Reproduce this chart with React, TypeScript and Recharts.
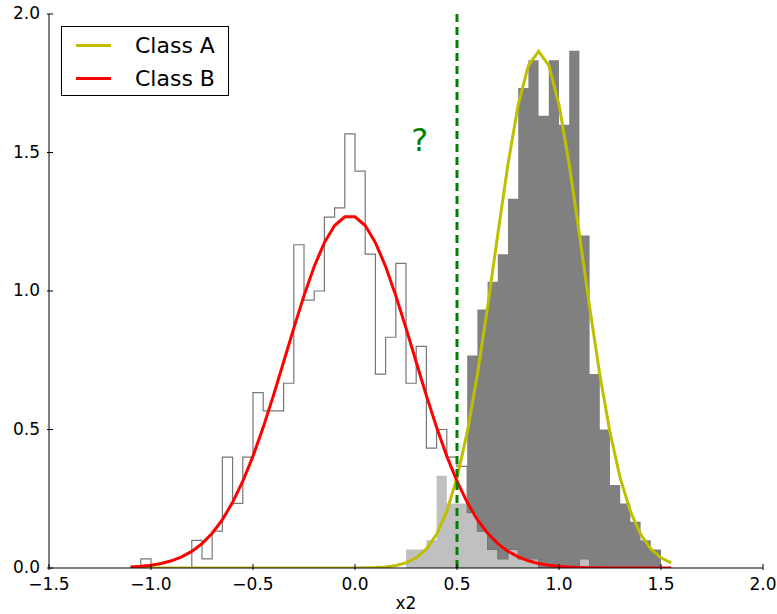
import {
  ComposedChart,
  Area,
  Line,
  XAxis,
  YAxis,
  ReferenceLine,
  ReferenceDot,
  Legend,
  Label,
} from 'recharts';

// bin left edges / curve sample positions (x2)
const xs = [
  -1.1, -1.05, -1.0, -0.95, -0.9, -0.85, -0.8, -0.75, -0.7, -0.65,
  -0.6, -0.55, -0.5, -0.45, -0.4, -0.35, -0.3, -0.25, -0.2, -0.15,
  -0.1, -0.05, 0.0, 0.05, 0.1, 0.15, 0.2, 0.25, 0.3, 0.35,
  0.4, 0.45, 0.5, 0.55, 0.6, 0.65, 0.7, 0.75, 0.8, 0.85,
  0.9, 0.95, 1.0, 1.05, 1.1, 1.15, 1.2, 1.25, 1.3, 1.35,
  1.4, 1.45, 1.5, 1.55,
];

// normalised histogram heights, bin starting at xs[i]
const classAHist = [
  0, 0, 0, 0, 0, 0, 0, 0, 0, 0,
  0, 0, 0, 0, 0, 0, 0, 0, 0, 0,
  0, 0, 0, 0, 0, 0, 0, 0.067, 0.067, 0.1,
  0.333, 0.233, 0.233, 0.767, 0.933, 1.033, 1.133, 1.333, 1.733, 1.833,
  1.633, 1.833, 1.6, 1.867, 1.2, 0.7, 0.5, 0.3, 0.233, 0.167,
  0.1, 0.067, 0, 0,
];

const classBHist = [
  0, 0.033, 0, 0, 0, 0, 0.1, 0.033, 0.133, 0.4,
  0.233, 0.4, 0.633, 0.567, 0.567, 0.667, 1.167, 0.967, 1.0, 1.267,
  1.3, 1.567, 1.433, 1.133, 0.7, 0.833, 1.1, 0.667, 0.8, 0.433,
  0.5, 0.4, 0.367, 0.2, 0.133, 0.067, 0.033, 0.067, 0.033, 0.033,
  0, 0, 0, 0, 0.033, 0, null, null, null, null,
  null, null, null, null,
];

// fitted density curves
const classAFit = [
  0, 0, 0, 0, 0, 0, 0, 0, 0, 0,
  0, 0, 0, 0, 0, 0, 0, 0, 0, 0,
  0, 0.0001, 0.0003, 0.0007, 0.0017, 0.004, 0.0089, 0.0185, 0.0366, 0.0686,
  0.1217, 0.2044, 0.3251, 0.4895, 0.6981, 0.9426, 1.205, 1.4588, 1.6721, 1.8148,
  1.865, 1.8148, 1.6721, 1.4588, 1.205, 0.9426, 0.6981, 0.4895, 0.3251, 0.2044,
  0.1217, 0.0686, 0.0366, 0.0185,
];

const classBFit = [
  0.0036, 0.0061, 0.0101, 0.0164, 0.0259, 0.04, 0.06, 0.0879, 0.1255, 0.1746,
  0.2369, 0.3133, 0.404, 0.5078, 0.6223, 0.7435, 0.866, 0.9834, 1.0886, 1.1748,
  1.2361, 1.268, 1.268, 1.2361, 1.1748, 1.0886, 0.9834, 0.866, 0.7435, 0.6223,
  0.5078, 0.404, 0.3133, 0.2369, 0.1746, 0.1255, 0.0879, 0.06, 0.04, 0.0259,
  0.0164, 0.0101, 0.0061, 0.0036, 0.002, 0.0011, 0.0006, 0.0003, 0.0002, 0.0001,
  0, 0, 0, 0,
];

const xTicks = [-1.5, -1.0, -0.5, 0.0, 0.5, 1.0, 1.5, 2.0];
const yTicks = [0.0, 0.5, 1.0, 1.5, 2.0];
const seriesNames = ['Class A', 'Class B'];
const seriesColors = ['#bfbf00', '#ff0000'];
const threshold = 0.5;

const FONT = '"DejaVu Sans", sans-serif';

const data = xs.map((x, i) => ({
  x,
  histA: classAHist[i],
  histB: classBHist[i],
  fitA: classAFit[i],
  fitB: classBFit[i],
}));

const fmt = (v: number) => v.toFixed(1).replace('-', '\u2212');

function BottomTick({ x, y, payload }: any) {
  return (
    <g>
      <line x1={x} x2={x} y1={y} y2={y - 6} stroke="#000" />
      <text x={x} y={y + 20} textAnchor="middle" fontSize={17} fontFamily={FONT} fill="#000">
        {fmt(payload.value)}
      </text>
    </g>
  );
}

function LeftTick({ x, y, payload }: any) {
  return (
    <g>
      <line x1={x} x2={x + 6} y1={y} y2={y} stroke="#000" />
      <text x={x - 7} y={y + 5} textAnchor="end" fontSize={17} fontFamily={FONT} fill="#000">
        {fmt(payload.value)}
      </text>
    </g>
  );
}

function TopTick({ x, y }: any) {
  return <line x1={x} x2={x} y1={y} y2={y + 6} stroke="#000" />;
}

function RightTick({ x, y }: any) {
  return <line x1={x} x2={x - 6} y1={y} y2={y} stroke="#000" />;
}

function LegendBox() {
  return (
    <div
      style={{
        boxSizing: 'border-box',
        width: 168,
        height: 70,
        border: '1px solid #000',
        background: '#fff',
        paddingTop: 2,
        fontFamily: FONT,
        fontSize: 22,
        color: '#000',
      }}
    >
      {seriesNames.map((name, i) => (
        <div key={name} style={{ display: 'flex', alignItems: 'center', height: 33 }}>
          <div style={{ marginLeft: 14, width: 35, height: 3, background: seriesColors[i] }} />
          <span style={{ marginLeft: 24, lineHeight: '33px' }}>{name}</span>
        </div>
      ))}
    </div>
  );
}

export default function App() {
  return (
    <div style={{ position: 'absolute', left: 0, top: 0, fontFamily: FONT, background: '#fff' }}>
      <ComposedChart width={777} height={614} data={data} margin={{ top: 14, right: 14, bottom: 0, left: 0 }}>
        <XAxis
          type="number"
          dataKey="x"
          domain={[-1.5, 2]}
          ticks={xTicks}
          interval={0}
          allowDataOverflow
          height={46}
          tickSize={0}
          tickLine={false}
          tick={BottomTick}
          axisLine={{ stroke: '#000' }}
        >
          <Label value="x2" position="insideBottom" offset={5} fontSize={17} fill="#000" fontFamily={FONT} />
        </XAxis>
        <XAxis
          xAxisId="top"
          orientation="top"
          type="number"
          dataKey="x"
          domain={[-1.5, 2]}
          ticks={xTicks}
          interval={0}
          allowDataOverflow
          height={0}
          tickSize={0}
          tickLine={false}
          tick={TopTick}
          axisLine={{ stroke: '#000' }}
        />
        <YAxis
          type="number"
          domain={[0, 2]}
          ticks={yTicks}
          interval={0}
          allowDataOverflow
          width={49}
          tickSize={0}
          tickLine={false}
          tick={LeftTick}
          axisLine={{ stroke: '#000' }}
        />
        <YAxis
          yAxisId="right"
          orientation="right"
          type="number"
          domain={[0, 2]}
          ticks={yTicks}
          interval={0}
          allowDataOverflow
          width={0}
          tickSize={0}
          tickLine={false}
          tick={RightTick}
          axisLine={{ stroke: '#000' }}
        />

        {/* Class A histogram (filled) */}
        <Area
          type="stepAfter"
          dataKey="histA"
          fill="#808080"
          fillOpacity={1}
          stroke="none"
          legendType="none"
          isAnimationActive={false}
        />
        {/* Class B histogram: translucent white fill, grey outline */}
        <Area
          type="stepAfter"
          dataKey="histB"
          fill="#ffffff"
          fillOpacity={0.5}
          stroke="#777777"
          strokeWidth={1.2}
          legendType="none"
          isAnimationActive={false}
        />

        <Line type="linear" dataKey="fitA" name={seriesNames[0]} stroke={seriesColors[0]} strokeWidth={3} dot={false} isAnimationActive={false} />
        <Line type="linear" dataKey="fitB" name={seriesNames[1]} stroke={seriesColors[1]} strokeWidth={3} dot={false} isAnimationActive={false} />

        <ReferenceLine x={threshold} stroke="#008000" strokeWidth={3} strokeDasharray="8 5" />
        <ReferenceDot
          x={0.317}
          y={1.545}
          r={0}
          fill="none"
          stroke="none"
          label={{ value: '?', position: 'center', fill: '#008000', fontSize: 32, fontFamily: FONT }}
        />

        <Legend
          layout="vertical"
          verticalAlign="middle"
          align="center"
          wrapperStyle={{ left: 61, top: 26, width: 168, height: 70 }}
          content={() => <LegendBox />}
        />
      </ComposedChart>
    </div>
  );
}
